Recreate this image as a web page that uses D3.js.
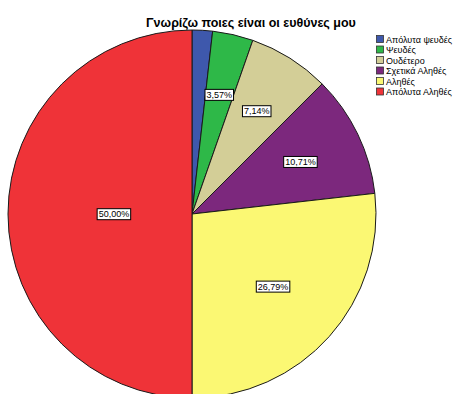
<!DOCTYPE html>
<html><head><meta charset="utf-8">
<script src="https://cdn.jsdelivr.net/npm/d3@7"></script>
<style>html,body{margin:0;padding:0;background:#fff;overflow:hidden}</style>
</head><body>
<svg id="chart" width="455" height="394"></svg>
<script>
const categories = ["Απόλυτα ψευδές","Ψευδές","Ουδέτερο","Σχετικά Αληθές","Αληθές","Απόλυτα Αληθές"];
const values = [1.79, 3.57, 7.14, 10.71, 26.79, 50.00];
const labels = ["", "3,57%", "7,14%", "10,71%", "26,79%", "50,00%"];
const colors = ["#3E58AC","#2EB848","#D3CE97","#7C287D","#FBF873","#EF3338"];
const title = "Γνωρίζω ποιες είναι οι ευθύνες μου";

const svg = d3.select("#chart");
const cx = 192, cy = 214, R = 184;
const font = "Arial, 'Liberation Sans', sans-serif";

svg.append("text").attr("x", 251).attr("y", 27).attr("text-anchor","middle")
  .attr("font-family", font).attr("font-weight","bold").attr("font-size", 12.5)
  .attr("fill","#000").text(title);

const pie = d3.pie().sort(null).value(d => d)(values);
const arc = d3.arc().innerRadius(0).outerRadius(R);
const g = svg.append("g").attr("transform", `translate(${cx},${cy})`);
g.selectAll("path").data(pie).join("path")
  .attr("d", arc).attr("fill", (d,i) => colors[i])
  .attr("stroke", "#1a1a1a").attr("stroke-width", 1);

// labels at sector centroid
pie.forEach((d,i) => {
  if (!labels[i]) return;
  const half = (d.endAngle - d.startAngle) / 2;
  const mid = (d.startAngle + d.endAngle) / 2;
  const rho = 2 * R * Math.sin(half) / (3 * half);
  const x = rho * Math.sin(mid), y = -rho * Math.cos(mid);
  const t = g.append("text").attr("x", x).attr("y", y + 3.2)
    .attr("text-anchor","middle").attr("font-family", font).attr("font-size", 9)
    .attr("fill","#000").text(labels[i]);
  const bb = t.node().getBBox();
  g.insert("rect", () => t.node())
    .attr("x", bb.x - 1.5).attr("y", bb.y - 0.5)
    .attr("width", bb.width + 3).attr("height", bb.height + 1)
    .attr("fill","#fff").attr("stroke","#000").attr("stroke-width",1);
});

// legend
const lg = svg.append("g").attr("transform","translate(376,35)");
categories.forEach((c,i) => {
  const row = lg.append("g").attr("transform", `translate(0,${i*10.5})`);
  row.append("rect").attr("x",0.5).attr("y",0.5).attr("width",7).attr("height",7)
    .attr("fill", colors[i]).attr("stroke","#333").attr("stroke-width",0.8);
  row.append("text").attr("x",10).attr("y",7.5).attr("font-family",font)
    .attr("font-size",9).attr("fill","#000").text(c);
});
</script>
</body></html>
